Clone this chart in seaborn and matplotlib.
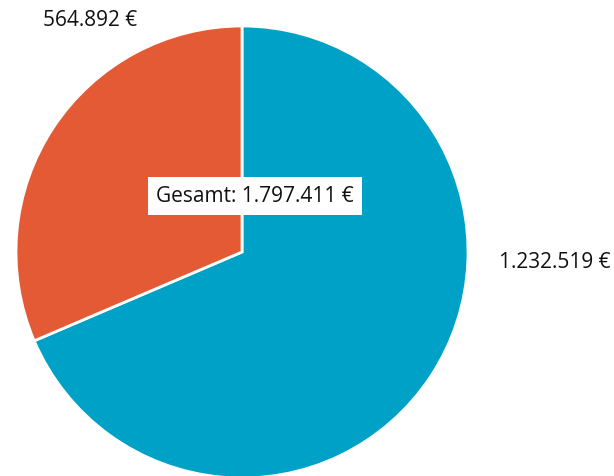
import matplotlib
matplotlib.use("Agg")
import matplotlib.pyplot as plt
import seaborn as sns

# Werte
kategorien = ["Blau", "Orange"]
werte = [1232519, 564892]
farben = ["#00A1C6", "#E45A35"]
wert_labels = ["1.232.519 €", "564.892 €"]
gesamt_label = "Gesamt: 1.797.411 €"

sns.set_theme(style="white")
plt.rcParams['font.family'] = ['Open Sans', 'DejaVu Sans']

fig = plt.figure(figsize=(6.14, 4.77), dpi=100)
ax = fig.add_axes([0, 0, 1, 1])

ax.pie(werte, colors=farben, startangle=90, counterclock=False,
       center=(242, 224), radius=226, frame=True,
       wedgeprops=dict(edgecolor="white", linewidth=2))
ax.set_xlim(0, 614)
ax.set_ylim(0, 477)
ax.axis("off")

# Beschriftungen
ax.text(555, 215, wert_labels[0], ha="center", va="center", fontsize=15, color="#111111")
ax.text(90, 457, wert_labels[1], ha="center", va="center", fontsize=15, color="#111111")
ax.text(255, 280, gesamt_label, ha="center", va="center", fontsize=15, color="#111111",
        bbox=dict(facecolor="white", edgecolor="none", boxstyle="square,pad=0.4"))

fig.savefig("out.png", dpi=100)
